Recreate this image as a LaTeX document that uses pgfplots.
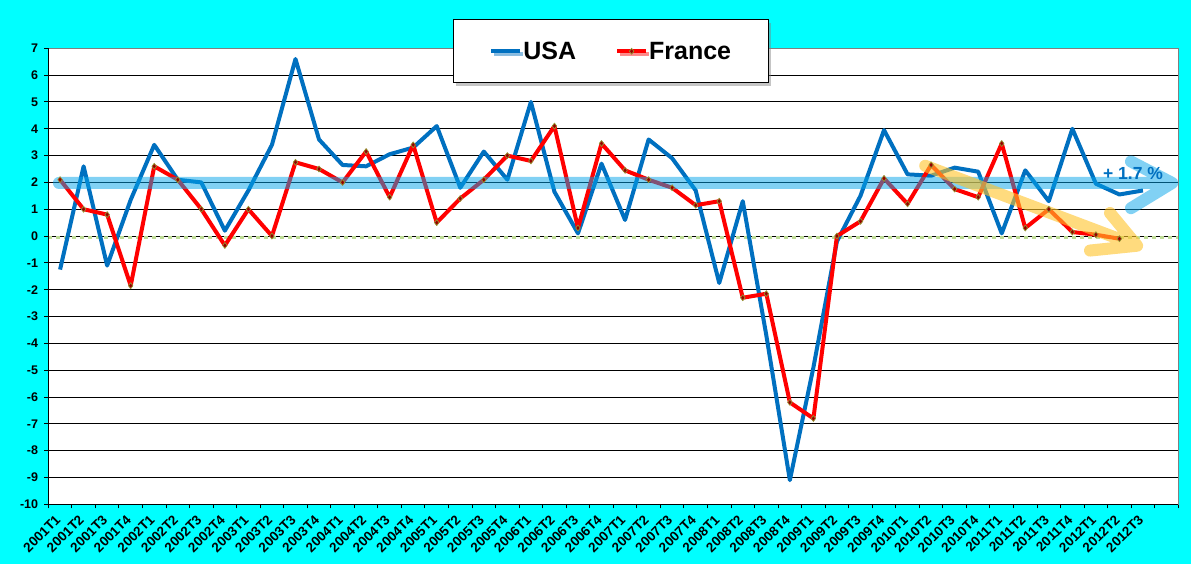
\documentclass[border=0pt]{standalone}
\usepackage{pgfplots}
\pgfplotsset{compat=1.18}
\usepackage{fontspec}
\setmainfont{Liberation Sans}
\usetikzlibrary{shadows}
\definecolor{usablue}{RGB}{0,112,192}
\definecolor{frred}{RGB}{255,0,0}
\definecolor{bgcyan}{RGB}{0,255,255}
\definecolor{bandblue}{RGB}{5,165,235}
\definecolor{arrowyellow}{RGB}{255,195,40}
\definecolor{zerogreen}{RGB}{190,220,150}
\definecolor{mkfill}{RGB}{150,0,0}
\definecolor{mkdraw}{RGB}{150,150,50}
\begin{document}
\begin{tikzpicture}
\fill[bgcyan] (0,0) rectangle (1191pt,564pt);
\begin{axis}[
  at={(48.3pt,59.7pt)}, anchor=south west,
  scale only axis, width=1130pt, height=456pt,
  xmin=-0.5, xmax=47.5, ymin=-10, ymax=7,
  axis background/.style={fill=white},
  axis line style={draw=gray, line width=1pt},
  xtick={-0.5,0.5,...,47.5},
  x tick label as interval=true,
  xticklabels={2001T1,2001T2,2001T3,2001T4,2002T1,2002T2,2002T3,2002T4,2003T1,2003T2,2003T3,2003T4,2004T1,2004T2,2004T3,2004T4,2005T1,2005T2,2005T3,2005T4,2006T1,2006T2,2006T3,2006T4,2007T1,2007T2,2007T3,2007T4,2008T1,2008T2,2008T3,2008T4,2009T1,2009T2,2009T3,2009T4,2010T1,2010T2,2010T3,2010T4,2011T1,2011T2,2011T3,2011T4,2012T1,2012T2,2012T3,{}},
  ytick={-10,-9,...,7},
  yticklabels={-10,-9,-8,-7,-6,-5,-4,-3,-2,-1,0,1,2,3,4,5,6,7},
  xtick pos=bottom, ytick pos=left,
  tick align=outside, major tick length=4pt,
  tick style={black, line width=1pt},
  ymajorgrids, major grid style={black, line width=1pt},
  yticklabel style={font=\fontsize{12.5}{14}\selectfont\bfseries, anchor=east, inner sep=0pt, xshift=-6pt},
  xticklabel style={font=\fontsize{13.5}{15}\selectfont\bfseries, xshift=-2pt, yshift=-9pt, rotate=45, anchor=east, inner sep=0pt},
  legend columns=2,
  legend style={at={(0.358,1.0636)}, anchor=north west, draw=black, line width=1pt, fill=white,
    inner xsep=36pt, inner ysep=21pt,
    font=\fontsize{25}{30}\selectfont\bfseries,
    nodes={inner sep=1pt},
    /tikz/every even column/.append style={column sep=38pt},
    drop shadow={shadow xshift=3pt, shadow yshift=-3pt, opacity=0.45}},
  legend image code/.code={\draw[mark repeat=2,mark phase=2,#1] plot coordinates {(0pt,0pt) (14.5pt,0pt) (29pt,0pt)};},
]
\addplot[zerogreen, line width=3.5pt, dash pattern=on 4pt off 4pt, forget plot] coordinates {(-0.5,-0.05) (47.5,-0.05)};
\addplot[usablue, line width=4pt, line join=round] coordinates {
(0,-1.25) (1,2.6) (2,-1.1) (3,1.35) (4,3.4) (5,2.1) (6,2.0) (7,0.2) (8,1.7) (9,3.4)
(10,6.6) (11,3.6) (12,2.65) (13,2.6) (14,3.05) (15,3.3) (16,4.1) (17,1.8) (18,3.15) (19,2.1)
(20,5.0) (21,1.65) (22,0.1) (23,2.7) (24,0.6) (25,3.6) (26,2.9) (27,1.7) (28,-1.75) (29,1.3)
(30,-3.7) (31,-9.1) (32,-4.9) (33,-0.2) (34,1.5) (35,3.95) (36,2.3) (37,2.25) (38,2.55) (39,2.4)
(40,0.1) (41,2.45) (42,1.3) (43,4.0) (44,1.95) (45,1.55) (46,1.7)};
\addlegendentry{USA}
\addplot[frred, line width=4pt, line join=round, mark=diamond*, mark size=3pt,
  mark options={fill=mkfill, draw=mkdraw, line width=0.7pt, solid}] coordinates {
(0,2.1) (1,1.0) (2,0.8) (3,-1.85) (4,2.6) (5,2.1) (6,1.0) (7,-0.35) (8,1.0) (9,0.0)
(10,2.75) (11,2.5) (12,2.0) (13,3.15) (14,1.45) (15,3.4) (16,0.5) (17,1.4) (18,2.1) (19,3.0)
(20,2.8) (21,4.1) (22,0.3) (23,3.45) (24,2.45) (25,2.1) (26,1.8) (27,1.15) (28,1.3) (29,-2.3)
(30,-2.15) (31,-6.2) (32,-6.8) (33,0.0) (34,0.55) (35,2.15) (36,1.2) (37,2.65) (38,1.75) (39,1.45)
(40,3.45) (41,0.3) (42,1.0) (43,0.15) (44,0.05) (45,-0.1)};
\addlegendentry{France}
% translucent trend arrows
\addplot[bandblue, opacity=0.5, line width=12pt, line cap=round, line join=round, unbounded coords=jump, forget plot] coordinates {
(-0.05,1.98) (47.24,1.98) (nan,nan) (45.49,2.78) (47.24,1.98) (45.49,1.04)};
\addplot[arrowyellow, opacity=0.6, line width=12pt, line cap=round, line join=round, unbounded coords=jump, forget plot] coordinates {
(36.75,2.62) (45.75,-0.36) (nan,nan) (44.6,0.86) (45.75,-0.36) (43.75,-0.54)};
\node[anchor=base west, inner sep=0pt, text=usablue, font=\fontsize{17.5}{20}\selectfont\bfseries] at (axis cs:44.3,2.12) {+ 1.7 \%};
\end{axis}
\draw[black, line width=1.5pt] (48.3pt,515.7pt) -- (48.3pt,59.7pt) -- (1178.3pt,59.7pt);
\pgfresetboundingbox
\path (0,0) rectangle (1191pt,564pt);
\end{tikzpicture}
\end{document}
